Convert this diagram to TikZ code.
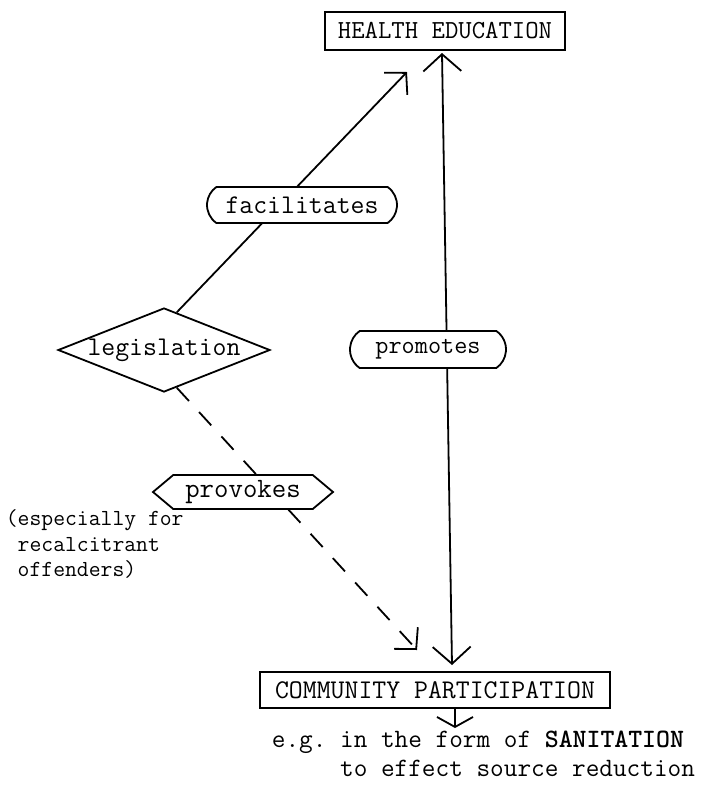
\documentclass[tikz,border=0pt]{standalone}
\usepackage{fontspec}
\usepackage{graphicx}
\usetikzlibrary{arrows.meta,shapes.geometric,shapes.misc,shapes.symbols,calc}
\begin{document}
\frenchspacing
\begin{tikzpicture}[x=1pt,y=-1pt, line width=1.8pt,
  boxnode/.style={draw, rectangle, inner sep=0pt, fill=white},
  bubble/.style={draw, rounded rectangle, rounded rectangle arc length=110, fill=white, inner sep=0pt},
  barb/.style={-{Straight Barb[length=15pt,width=32pt]}},
  dbarb/.style={{Straight Barb[length=17pt,width=38pt]}-{Straight Barb[length=17pt,width=38pt]}},
  tf/.style={font=\ttfamily\fontsize{#1}{#1}\selectfont}
]
\useasboundingbox (0,0) rectangle (721,793);
\node[boxnode, tf=26, minimum width=240, minimum height=38] (he) at (445,31) {HEALTH EDUCATION};
\node[boxnode, tf=27, minimum width=350, minimum height=36] (cp) at (435,690) {COMMUNITY PARTICIPATION};
\node[draw, diamond, aspect=2.52, minimum width=212, minimum height=84, inner sep=0pt, tf=27] (leg) at (164,350) {\makebox[0pt]{legislation}};
\coordinate (facTip) at (407,72);
\coordinate (provTip) at (417,650);
\coordinate (heTip) at (442,53);
\coordinate (cpTip) at (452,665);
\coordinate (egTip) at (455,728);
\draw[barb] ($(leg.north)!0.12!(leg.east)$) -- (facTip);
\draw[barb, dash pattern=on 18pt off 15pt] ($(leg.south)!0.12!(leg.east)$) -- (provTip);
\draw[dbarb] (cpTip) -- (heTip);
\draw[-{Straight Barb[length=10pt,width=36pt]}] (cp.south -| egTip) -- (egTip);
\node[bubble, tf=27, minimum width=190, minimum height=36] (fac) at (302,205) {facilitates};
\node[bubble, tf=25.5, minimum width=156, minimum height=37] (prom) at (428,349.5) {promotes};
\node[draw, signal, signal from=nowhere, signal to=west and east, signal pointer angle=80, fill=white, minimum width=180, minimum height=34, inner sep=0pt, tf=28] (prov) at (243,492) {provokes};
\node[anchor=north west, inner sep=0pt, align=left, font=\ttfamily\fontsize{23}{25.5}\selectfont] (esp) at (5,509) {(especially for\\\phantom{(}recalcitrant\\\phantom{(}offenders)};
\node[anchor=west, inner sep=0pt, align=left, font=\ttfamily\fontsize{26.5}{29}\selectfont] (eg) at (271,757) {e.g. in the form of \textbf{SANITATION}\\\phantom{e.g. }to effect source reduction};
\end{tikzpicture}
\end{document}
